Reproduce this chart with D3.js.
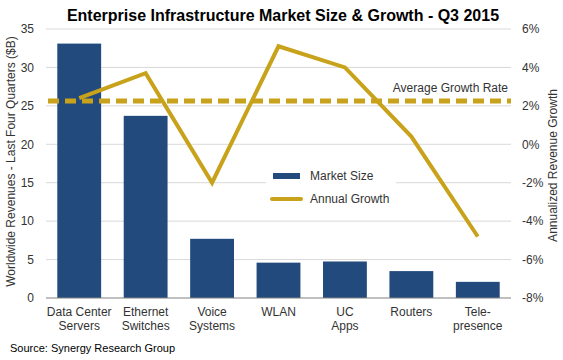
<!DOCTYPE html>
<html>
<head>
<meta charset="utf-8">
<script src="https://d3js.org/d3.v7.min.js"></script>
<style>
  body { margin: 0; background: #fff; }
  text { font-family: Arial, "Liberation Sans", sans-serif; }
</style>
</head>
<body>
<div id="chart"></div>
<script>
// data
const categories = [["Data Center", "Servers"], ["Ethernet", "Switches"], ["Voice", "Systems"], ["WLAN"], ["UC", "Apps"], ["Routers"], ["Tele-", "presence"]];
const marketSize = [33.1, 23.7, 7.7, 4.6, 4.75, 3.5, 2.1];
const annualGrowth = [2.4, 3.7, -2.0, 5.1, 4.0, 0.4, -4.8];
const avgGrowth = 2.25;
const leftTicks = [0, 5, 10, 15, 20, 25, 30, 35];
const rightTicks = [-8, -6, -4, -2, 0, 2, 4, 6];

const W = 563, H = 360;
const margin = {top: 29, right: 52, bottom: 62, left: 46};
const width = W - margin.left - margin.right,
      height = H - margin.top - margin.bottom;

const barColor = "#224A7C", lineColor = "#C8A21A", textColor = "#333";

const svg = d3.select("#chart").append("svg")
    .attr("width", W).attr("height", H);

const g = svg.append("g")
    .attr("transform", `translate(${margin.left}, ${margin.top})`);

const keys = categories.map(d => d.join(" "));

const x = d3.scaleBand().domain(keys).range([0, width]).paddingInner(0.34).paddingOuter(0.17);
const y = d3.scaleLinear().domain([0, 35]).range([height, 0]);
const y2 = d3.scaleLinear().domain([-8, 6]).range([height, 0]);

// gridlines
g.selectAll(".grid").data(leftTicks.slice(1))
  .join("line")
    .attr("x1", 0).attr("x2", width)
    .attr("y1", d => y(d)).attr("y2", d => y(d))
    .attr("stroke", "#d9d9d9").attr("stroke-width", 1);

// left axis
const yAxis = g.append("g")
    .call(d3.axisLeft(y).tickValues(leftTicks).tickSize(0).tickPadding(12));
yAxis.select(".domain").remove();
yAxis.selectAll("text").style("font-size", "12px").attr("fill", textColor);

// right axis
const y2Axis = g.append("g")
    .attr("transform", `translate(${width}, 0)`)
    .call(d3.axisRight(y2).tickValues(rightTicks).tickSize(0).tickPadding(11).tickFormat(d => d + "%"));
y2Axis.select(".domain").remove();
y2Axis.selectAll("text").style("font-size", "12px").attr("fill", textColor);

// bars
g.selectAll(".bar").data(marketSize)
  .join("rect")
    .attr("x", (d, i) => x(keys[i]))
    .attr("y", d => y(d))
    .attr("width", x.bandwidth())
    .attr("height", d => height - y(d))
    .attr("fill", barColor);

// x axis line
g.append("line")
    .attr("x1", 0).attr("x2", width)
    .attr("y1", height).attr("y2", height)
    .attr("stroke", "#808080").attr("stroke-width", 1);

// category labels
const xl = g.selectAll(".xlab").data(categories)
  .join("text")
    .attr("text-anchor", "middle")
    .attr("x", (d, i) => x(keys[i]) + x.bandwidth() / 2)
    .attr("y", height + 18)
    .style("font-size", "12px").attr("fill", textColor);
xl.selectAll("tspan").data(d => d)
  .join("tspan")
    .attr("x", function() { return this.parentNode.getAttribute("x"); })
    .attr("dy", (d, i) => i === 0 ? 0 : 14)
    .text(d => d);

// average growth line
g.append("line")
    .attr("x1", 2).attr("x2", width)
    .attr("y1", y2(avgGrowth)).attr("y2", y2(avgGrowth))
    .attr("stroke", lineColor).attr("stroke-width", 5)
    .attr("stroke-dasharray", "11,6");
g.append("text")
    .attr("x", width - 3).attr("y", y2(avgGrowth) - 9)
    .attr("text-anchor", "end")
    .style("font-size", "12px").attr("fill", textColor)
    .text("Average Growth Rate");

// growth line
const line = d3.line()
    .x((d, i) => x(keys[i]) + x.bandwidth() / 2)
    .y(d => y2(d));
g.append("path")
    .datum(annualGrowth)
    .attr("d", line)
    .attr("fill", "none")
    .attr("stroke", lineColor).attr("stroke-width", 4)
    .attr("stroke-linejoin", "miter");

// legend
const lg = svg.append("g").attr("transform", "translate(266, 164)");
lg.append("rect").attr("width", 130).attr("height", 46).attr("fill", "#fff");
lg.append("rect").attr("x", 7).attr("y", 9).attr("width", 27).attr("height", 6).attr("fill", barColor);
lg.append("line").attr("x1", 6).attr("x2", 35).attr("y1", 35).attr("y2", 35)
    .attr("stroke", lineColor).attr("stroke-width", 4).attr("stroke-linecap", "round");
lg.append("text").attr("x", 44).attr("y", 16).style("font-size", "12px").attr("fill", textColor).text("Market Size");
lg.append("text").attr("x", 44).attr("y", 39).style("font-size", "12px").attr("fill", textColor).text("Annual Growth");

// axis titles
svg.append("text")
    .attr("transform", `translate(15, ${margin.top + height / 2 - 2}) rotate(-90)`)
    .attr("text-anchor", "middle")
    .style("font-size", "12px").attr("fill", textColor)
    .text("Worldwide Revenues - Last Four Quarters ($B)");
svg.append("text")
    .attr("transform", `translate(557, ${margin.top + height / 2 + 2}) rotate(-90)`)
    .attr("text-anchor", "middle")
    .style("font-size", "12px").attr("fill", textColor)
    .text("Annualized Revenue Growth");

// title
svg.append("text")
    .attr("x", 283).attr("y", 21)
    .attr("text-anchor", "middle")
    .style("font-size", "16px").style("font-weight", "bold").attr("fill", "#000")
    .text("Enterprise Infrastructure Market Size & Growth - Q3 2015");

// source
svg.append("text")
    .attr("x", 10).attr("y", 352)
    .style("font-size", "11px").attr("fill", "#000")
    .text("Source: Synergy Research Group");
</script>
</body>
</html>
